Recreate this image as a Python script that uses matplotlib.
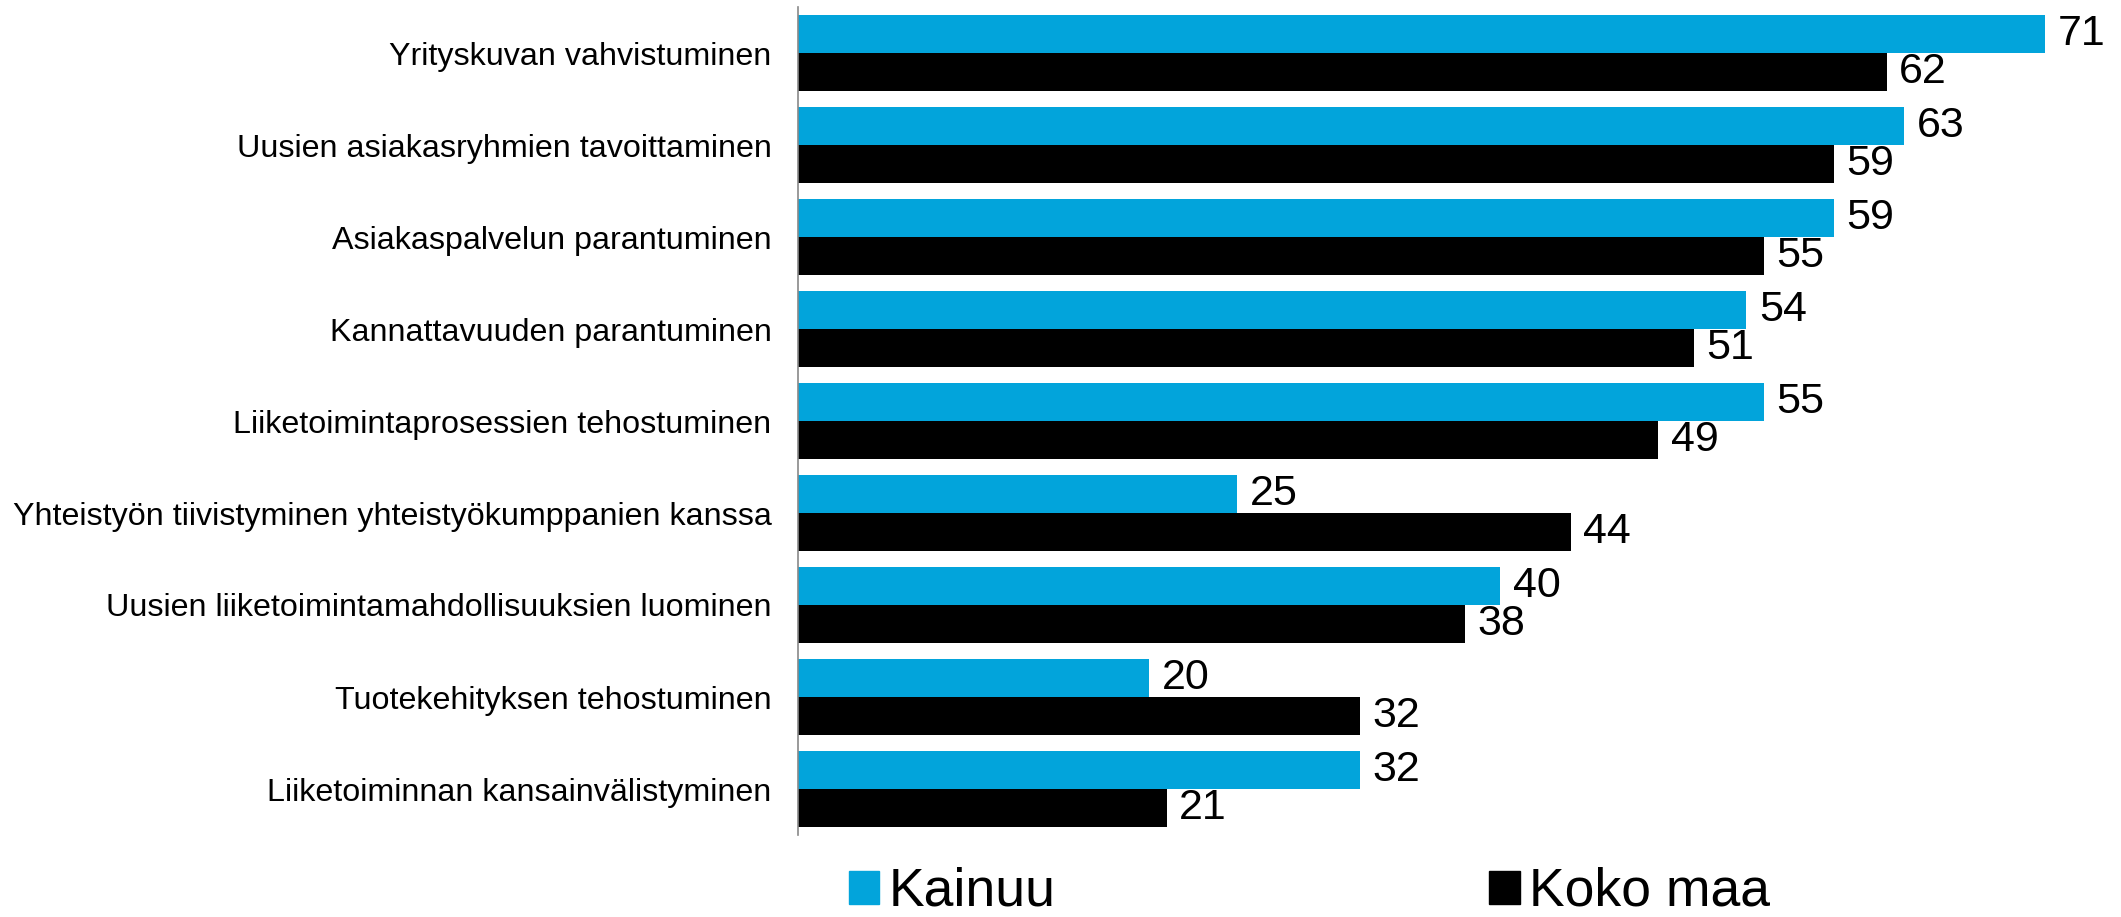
import matplotlib.pyplot as plt
from matplotlib.patches import Patch

plt.rcParams['font.family'] = ['Liberation Sans', 'DejaVu Sans']

categories = ['Yrityskuvan vahvistuminen',
              'Uusien asiakasryhmien tavoittaminen',
              'Asiakaspalvelun parantuminen',
              'Kannattavuuden parantuminen',
              'Liiketoimintaprosessien tehostuminen',
              'Yhteistyön tiivistyminen yhteistyökumppanien kanssa',
              'Uusien liiketoimintamahdollisuuksien luominen',
              'Tuotekehityksen tehostuminen',
              'Liiketoiminnan kansainvälistyminen']
kainuu = [71, 63, 59, 54, 55, 25, 40, 20, 32]
koko_maa = [62, 59, 55, 51, 49, 44, 38, 32, 21]
series_names = ['Kainuu', 'Koko maa']

blue = '#02A4DB'
black = '#000000'

fig = plt.figure(figsize=(21.21, 9.17), dpi=100)
ax = fig.add_axes([798/2121, 1-835/917, 1-798/2121, (835-7)/917])

y = list(range(len(categories)))
h = 0.413
b1 = ax.barh([i - h/2 for i in y], kainuu, height=h, color=blue)
b2 = ax.barh([i + h/2 for i in y], koko_maa, height=h, color=black)
ax.bar_label(b1, padding=9, fontsize=31)
ax.bar_label(b2, padding=9, fontsize=31)

ax.set_ylim(len(categories) - 0.5, -0.5)
ax.set_xlim(0, 1323/17.56)
ax.set_yticks(y)
ax.set_yticklabels(categories, fontsize=23.2)
ax.tick_params(axis='y', length=0, pad=19)
ax.set_xticks([])
for s in ['top', 'right', 'bottom']:
    ax.spines[s].set_visible(False)
ax.spines['left'].set_color('#898989')
ax.spines['left'].set_linewidth(1.2)

handles = [Patch(color=blue), Patch(color=black)]
fig.legend(handles, series_names, loc='center left', bbox_to_anchor=(849/2121, 1-892/917),
           ncol=2, frameon=False, fontsize=38.5, borderpad=0, borderaxespad=0,
           handlelength=0.57, handleheight=0.57, handletextpad=0.18, columnspacing=8.1)

fig.savefig('out.png')
